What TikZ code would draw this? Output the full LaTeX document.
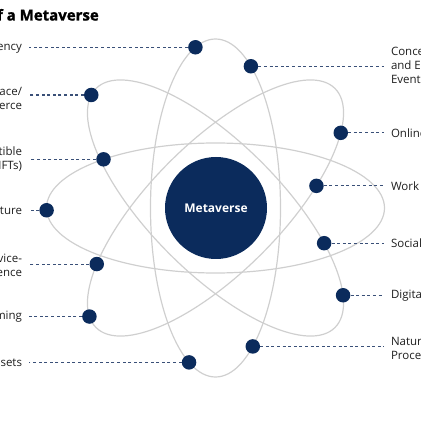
\documentclass[tikz,border=0pt]{standalone}
\usepackage{fontspec}
\setmainfont{Open Sans}
\newfontfamily\titlefont[FakeBold=1.2]{Open Sans Bold}
\definecolor{navy}{HTML}{0B2B5C}
\definecolor{orbitgray}{HTML}{CFCFCF}
\definecolor{dashblue}{HTML}{3A5078}
\definecolor{labtext}{HTML}{1E1E1E}
\begin{document}
\begin{tikzpicture}[x=1pt,y=1pt,
  orbit/.style={draw=orbitgray, line width=1.2pt},
  dot/.style={circle, fill=navy, minimum size=14.5pt, inner sep=0pt},
  conn/.style={draw=dashblue, line width=1.1pt, dash pattern=on 3pt off 2.6pt},
  labl/.style={font=\fontsize{11.5}{14}\selectfont, text=labtext, inner sep=0pt, outer xsep=7pt},
  labL/.style={labl, anchor=east, align=right},
  labR/.style={labl, anchor=west, align=left},
]
\useasboundingbox (0,0) rectangle (421,421);
\clip (0,0) rectangle (421,421);
\coordinate (c) at (215.5,213);
\coordinate (lx) at (29,0);
\coordinate (rx) at (384,0);

% orbits
\draw[orbit] (c) ellipse [x radius=169pt, y radius=65pt];
\draw[orbit, rotate around={90:(c)}] (c) ellipse [x radius=169pt, y radius=65pt];
\draw[orbit, rotate around={-45:(c)}] (c) ellipse [x radius=169pt, y radius=65pt];
\draw[orbit, rotate around={45:(c)}] (c) ellipse [x radius=169pt, y radius=65pt];

% hub
\node[circle, fill=navy, minimum size=102pt, inner sep=0pt, text=white,
      font=\bfseries\fontsize{12}{14}\selectfont] (hub) at (216,213) {Metaverse};

% title
\node[anchor=base east, inner sep=0pt, font=\titlefont\fontsize{15}{18}\selectfont] (title) at (99,400.5) {of a Metaverse};

% dots on orbits
\begin{scope}[shift={(c)}]
  \path (131.5:169 and 65) coordinate (pnft);
  \path (182:169 and 65) coordinate (pinf);
  \begin{scope}[rotate=-45]
    \path (187:169 and 65) coordinate (pmkt);
    \path (53:169 and 65) coordinate (psoc);
    \path (26:169 and 65) coordinate (pdig);
  \end{scope}
  \begin{scope}[rotate=45]
    \path (-33:169 and 65) coordinate (ponl);
    \path (-59:169 and 65) coordinate (pwrk);
    \path (137:169 and 65) coordinate (psrv);
    \path (169:169 and 65) coordinate (pgam);
  \end{scope}
  \begin{scope}[rotate=90]
    \path (18:169 and 65) coordinate (pcur);
    \path (-33:169 and 65) coordinate (pcon);
    \path (156:169 and 65) coordinate (pass);
    \path (215:169 and 65) coordinate (pnat);
  \end{scope}
\end{scope}

\foreach \n in {nft,inf,mkt,soc,dig,onl,wrk,srv,gam,cur,con,ass,nat}
  \node[dot] (\n) at (p\n) {};

% left labels
\node[labL] (Lcur) at (lx |- cur) {Currency};
\node[labL, yshift=-3pt] (Lmkt) at (lx |- mkt) {Marketplace/\\Commerce};
\node[labL] (Lnft) at (lx |- nft) {Collectible\\(NFTs)};
\node[labL] (Linf) at (lx |- inf) {Infrastructure};
\node[labL, yshift=-3pt] (Lsrv) at (lx |- srv) {Service-\\Experience};
\node[labL] (Lgam) at (lx |- gam) {Gaming};
\node[labL] (Lass) at (lx |- ass) {Assets};

% right labels
\node[labR, yshift=1pt] (Rcon) at (rx |- con) {Concerts\\and Entertainment\\Events};
\node[labR] (Ronl) at (rx |- onl) {Online};
\node[labR] (Rwrk) at (rx |- wrk) {Work};
\node[labR] (Rsoc) at (rx |- soc) {Social};
\node[labR] (Rdig) at (rx |- dig) {Digital};
\node[labR, yshift=-3pt] (Rnat) at (rx |- nat) {Natural\\Processing};

% connectors
\foreach \n in {cur,mkt,nft,inf,srv,gam,ass}
  \draw[conn] (\n) -- (\n -| L\n.east);
\foreach \n in {con,onl,wrk,soc,dig,nat}
  \draw[conn] (\n) -- (\n -| R\n.west);
\end{tikzpicture}
\end{document}
